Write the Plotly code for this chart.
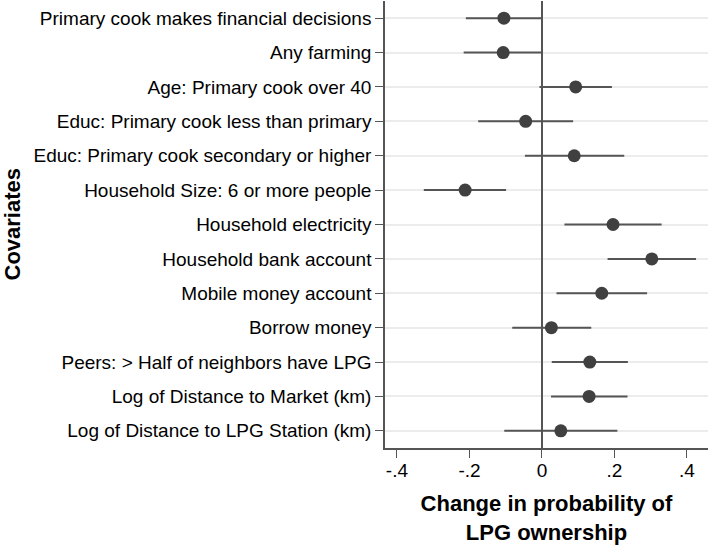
import plotly.graph_objects as go

covariates = [
    "Primary cook makes financial decisions",
    "Any farming",
    "Age: Primary cook over 40",
    "Educ: Primary cook less than primary",
    "Educ: Primary cook secondary or higher",
    "Household Size: 6 or more people",
    "Household electricity",
    "Household bank account",
    "Mobile money account",
    "Borrow money",
    "Peers: > Half of neighbors have LPG",
    "Log of Distance to Market (km)",
    "Log of Distance to LPG Station (km)",
]
estimate = [-0.105, -0.107, 0.093, -0.045, 0.089, -0.212, 0.196, 0.303, 0.165, 0.026, 0.132, 0.130, 0.052]
ci_low = [-0.210, -0.216, -0.007, -0.176, -0.047, -0.326, 0.062, 0.181, 0.040, -0.082, 0.027, 0.025, -0.104]
ci_high = [0.000, 0.000, 0.193, 0.086, 0.227, -0.099, 0.330, 0.425, 0.290, 0.136, 0.237, 0.236, 0.208]

x_tickvals = [-0.4, -0.2, 0, 0.2, 0.4]
x_ticktext = ["-.4", "-.2", "0", ".2", ".4"]

FONT = "Liberation Sans, Arial, sans-serif"

fig = go.Figure()
fig.add_trace(go.Scatter(
    x=estimate, y=covariates, mode="markers",
    marker=dict(size=13, color="#404040"),
    error_x=dict(type="data", symmetric=False,
                 array=[h - e for h, e in zip(ci_high, estimate)],
                 arrayminus=[e - l for e, l in zip(estimate, ci_low)],
                 color="#555555", thickness=2, width=0),
    showlegend=False, hoverinfo="skip",
))

fig.update_layout(
    width=709, height=545,
    margin=dict(l=385, r=1, t=1, b=97),
    plot_bgcolor="white", paper_bgcolor="white",
    font=dict(family=FONT, size=19, color="black"),
    xaxis=dict(range=[-0.433, 0.458], tickvals=x_tickvals, ticktext=x_ticktext,
               automargin=False,
               showgrid=False, zeroline=True, zerolinecolor="#555555", zerolinewidth=1.5,
               showline=True, linecolor="#555555", linewidth=1.5,
               ticks="outside", ticklen=8, tickcolor="#555555",
               ticklabelstandoff=-4,
               tickfont=dict(size=19),
               title=dict(text="<b>Change in probability of<br>LPG ownership</b>",
                          font=dict(size=22), standoff=16)),
    yaxis=dict(categoryorder="array", categoryarray=covariates[::-1],
               range=[-0.5, 12.5], automargin=False,
               showgrid=True, gridcolor="#ececec", gridwidth=1.5,
               showline=True, linecolor="#555555", linewidth=1.5,
               ticks="outside", ticklen=8, tickcolor="#555555",
               tickfont=dict(size=19)),
    annotations=[dict(text="<b>Covariates</b>", textangle=-90, xref="paper", yref="paper",
                      x=0, xanchor="center", y=0.5, yanchor="middle",
                      xshift=-373, showarrow=False, font=dict(size=22))],
)

fig.write_html("out.html", config={"displayModeBar": False},
               post_script="document.body.style.margin='0px';")
